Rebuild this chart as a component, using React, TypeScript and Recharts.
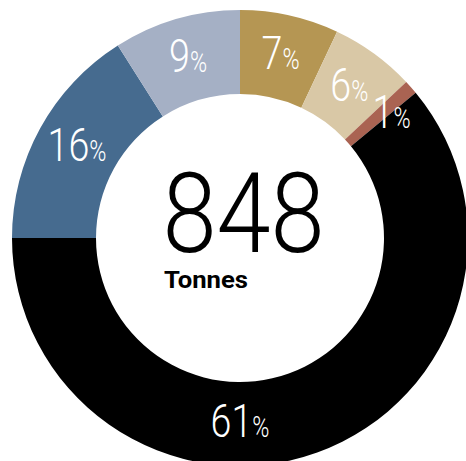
import React from "react";
import { PieChart, Pie, Cell } from "recharts";

const categories = ["Gold", "Tan", "Red", "Black", "Blue", "LightBlue"];
const values = [7, 6, 1, 61, 16, 9];
const colors = ["#B59653", "#D9C8A6", "#AA6352", "#000000", "#466B8F", "#A5B0C5"];
const totalLabel = "848";
const unitLabel = "Tonnes";

const data = categories.map((name, i) => ({ name, value: values[i] }));
const RAD = Math.PI / 180;

const renderLabel = (props: any) => {
  const { cx, cy, midAngle, innerRadius, outerRadius, value, index } = props;
  const r = (innerRadius + outerRadius) / 2;
  // the large slice carries its label at the bottom of the ring
  const ang = index === 3 ? -90 : midAngle;
  let x = cx + r * Math.cos(-ang * RAD);
  const y = cy + r * Math.sin(-ang * RAD);
  let anchor = "middle";
  if (index === 2) {
    anchor = "start";
    x -= 7;
  }
  return (
    <g transform={`translate(${x},${y + 13}) scale(0.8,1)`}>
      <text
        x={0}
        y={0}
        textAnchor={anchor}
        fill="#ffffff"
        fontFamily="Roboto, sans-serif"
        fontWeight={300}
      >
        <tspan fontSize={47}>{value}</tspan>
        <tspan fontSize={29}>%</tspan>
      </text>
    </g>
  );
};

export default function App() {
  return (
    <div style={{ position: "absolute", left: 0, top: 0, width: 466, height: 461, background: "#fff" }}>
      <PieChart width={466} height={461} margin={{ top: 0, right: 0, bottom: 0, left: 0 }}>
        <Pie
          data={data}
          dataKey="value"
          nameKey="name"
          cx={240}
          cy={238}
          innerRadius={144}
          outerRadius={228}
          startAngle={90}
          endAngle={-270}
          stroke="none"
          label={renderLabel}
          labelLine={false}
          isAnimationActive={false}
        >
          {data.map((d, i) => (
            <Cell key={d.name} fill={colors[i]} />
          ))}
        </Pie>
        <g transform="translate(243.5,252) scale(0.87,1)">
          <text
            x={0}
            y={0}
            textAnchor="middle"
            fontSize={112}
            fontWeight={300}
            fontFamily="Roboto, sans-serif"
            fill="#000"
          >
            {totalLabel}
          </text>
        </g>
        <text
          x={164}
          y={288}
          textAnchor="start"
          fontSize={23}
          fontWeight={700}
          fontFamily="Roboto, sans-serif"
          textLength={84}
          lengthAdjust="spacingAndGlyphs"
          fill="#000"
        >
          {unitLabel}
        </text>
      </PieChart>
    </div>
  );
}
